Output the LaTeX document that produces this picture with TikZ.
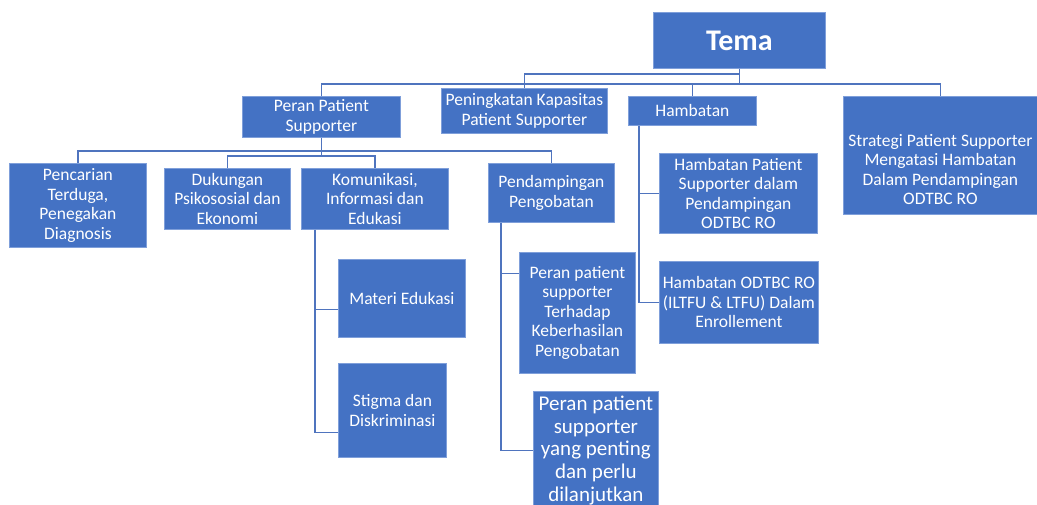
\documentclass[tikz,border=0pt]{standalone}
\usepackage{fontspec}
\setmainfont{Carlito}
\usetikzlibrary{positioning}
\definecolor{boxblue}{HTML}{4472C4}
\definecolor{boxedge}{HTML}{7F9FDA}
\definecolor{linkblue}{HTML}{4F74BE}
\begin{document}
\begin{tikzpicture}[x=1pt,y=-1pt,
  box/.style={draw=boxedge,line width=0.8pt,fill=boxblue,text=white,align=center,
    inner sep=0pt,anchor=north west,font=\fontsize{17.5}{19.5}\selectfont},
  bigbox/.style={box,font=\fontsize{21}{22.6}\selectfont},
  link/.style={draw=linkblue,line width=1.6pt}]
  \useasboundingbox[fill=white] (0,0) rectangle (1037,504);

  \node[box,minimum width=172,minimum height=56,font=\fontsize{30}{32}\selectfont\bfseries] (tema) at (653,12) {Tema};

  \node[box,minimum width=158,minimum height=41] (peran) at (242,96) {Peran Patient\\Supporter};
  \node[box,minimum width=166,minimum height=45] (pening) at (441,88) {Peningkatan Kapasitas\\Patient Supporter};
  \node[box,minimum width=128,minimum height=29] (hamb) at (628,96) {Hambatan};
  \node[box,minimum width=194,minimum height=118] (strat) at (843,96) {\rule{0pt}{40pt}Strategi Patient Supporter\\Mengatasi Hambatan\\Dalam Pendampingan\\ODTBC RO};

  \node[box,minimum width=137,minimum height=84] (cari) at (9,163) {Pencarian\\Terduga,\\Penegakan\\Diagnosis};
  \node[box,minimum width=126,minimum height=61] (dukung) at (164,168) {Dukungan\\Psikososial dan\\Ekonomi};
  \node[box,minimum width=147,minimum height=61] (kie) at (301,168) {Komunikasi,\\Informasi dan\\Edukasi};
  \node[box,minimum width=126,minimum height=59] (damping) at (488,163) {Pendampingan\\Pengobatan};

  \node[box,minimum width=127,minimum height=78] (materi) at (338,259) {Materi Edukasi};
  \node[box,minimum width=108,minimum height=94] (stigma) at (338,363) {Stigma dan\\Diskriminasi};

  \node[box,minimum width=116,minimum height=121] (hasil) at (519,252) {Peran patient\\supporter\\Terhadap\\Keberhasilan\\Pengobatan};
  \node[bigbox,minimum width=125,minimum height=118] (lanjut) at (533,391) {Peran patient\\supporter\\yang penting\\dan perlu\\dilanjutkan};

  \node[box,minimum width=158,minimum height=80] (hps) at (659,153) {Hambatan Patient\\Supporter dalam\\Pendampingan\\ODTBC RO};
  \node[box,minimum width=159,minimum height=82] (hodtbc) at (659,261) {Hambatan ODTBC RO\\(ILTFU \& LTFU) Dalam\\Enrollement};

  % tema
  \draw[link] (tema.south) -- ++(0,5) -| (pening.north);
  \draw[link] (tema.south) -- ++(0,15) -| (peran.north);
  \draw[link] (tema.south) ++(0,15) -| (hamb.north);
  \draw[link] (tema.south) ++(0,15) -| (strat.north);

  % peran patient supporter
  \draw[link] (peran.south) -- ++(0,13) -| (cari.north);
  \draw[link] (peran.south) ++(0,13) -| (damping.north);
  \draw[link] (peran.south) -- ++(0,18) -| (dukung.north);
  \draw[link] (peran.south) ++(0,18) -| (kie.north);

  % sub topik
  \draw[link] (kie.south west) ++(14,0) |- ([yshift=-11pt]materi.west);
  \draw[link] (kie.south west) ++(14,0) |- ([yshift=-22pt]stigma.west);
  \draw[link] (damping.south west) ++(13,0) |- ([yshift=39.5pt]hasil.west);
  \draw[link] (damping.south west) ++(13,0) |- (lanjut.west);
  \draw[link] (hamb.south west) ++(11,0) |- (hps.west);
  \draw[link] (hamb.south west) ++(11,0) |- (hodtbc.west);
\end{tikzpicture}
\end{document}
